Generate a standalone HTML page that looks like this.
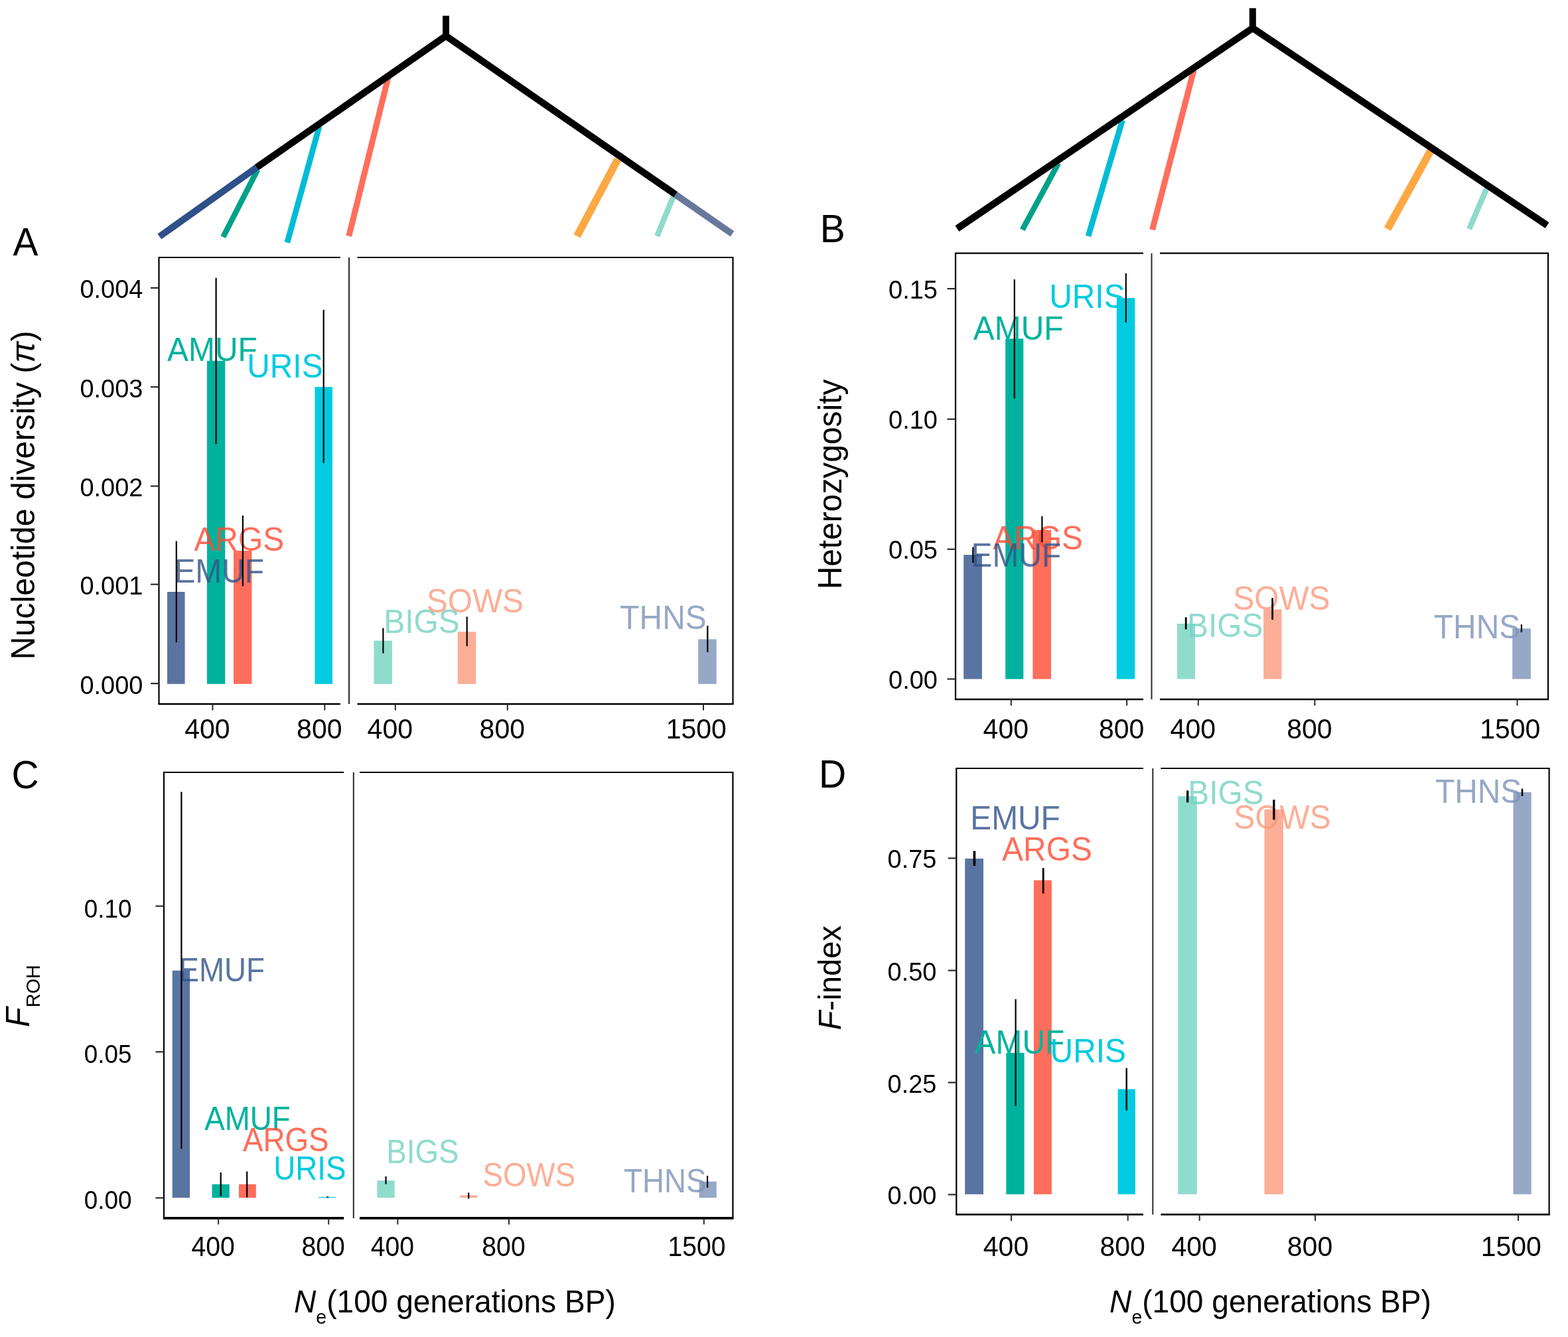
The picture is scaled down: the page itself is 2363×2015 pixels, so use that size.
<!DOCTYPE html>
<html><head><meta charset="utf-8"><title>Figure</title>
<style>
html,body{margin:0;padding:0;background:#fff;}
body{width:2363px;height:2015px;overflow:hidden;}
svg{display:block;}
svg text{font-family:'Liberation Sans', Arial, Helvetica, sans-serif;}
</style></head>
<body>
<svg width="2363" height="2015" viewBox="0 0 2363 2015">
<rect x="0" y="0" width="2363" height="2015" fill="#fff"/>
<line x1="388.2" y1="255.8" x2="336.3" y2="357.1" stroke="#00a18a" stroke-width="8.5" stroke-linecap="butt"/>
<line x1="481.1" y1="190.6" x2="432.9" y2="365.6" stroke="#00bcd6" stroke-width="8.8" stroke-linecap="butt"/>
<line x1="584.9" y1="117.0" x2="525.8" y2="355.9" stroke="#ff6e5d" stroke-width="9" stroke-linecap="butt"/>
<line x1="931.0" y1="240.0" x2="869.6" y2="355.9" stroke="#fca944" stroke-width="11.5" stroke-linecap="butt"/>
<line x1="1014.4" y1="296.8" x2="990.2" y2="355.9" stroke="#8fdacb" stroke-width="8.5" stroke-linecap="butt"/>
<line x1="672" y1="23.7" x2="672" y2="56.2" stroke="#000" stroke-width="10" stroke-linecap="butt"/>
<line x1="672" y1="54.2" x2="387" y2="252.2" stroke="#000" stroke-width="10" stroke-linecap="butt" stroke-linejoin="miter"/>
<line x1="387" y1="252.2" x2="240.3" y2="356.5" stroke="#2f508a" stroke-width="10" stroke-linecap="butt"/>
<line x1="672" y1="54.2" x2="1018" y2="293.2" stroke="#000" stroke-width="10" stroke-linecap="butt"/>
<line x1="1018" y1="293.2" x2="1103.5" y2="352.5" stroke="#67789a" stroke-width="10" stroke-linecap="butt"/>
<polyline points="387,252.2 672,54.2 1018,293.2" fill="none" stroke="#000" stroke-width="10" stroke-linejoin="miter" stroke-miterlimit="10"/>
<line x1="1595.0" y1="246.1" x2="1540.7" y2="346.3" stroke="#00a18a" stroke-width="8.5" stroke-linecap="butt"/>
<line x1="1691.5" y1="181.0" x2="1640.0" y2="355.9" stroke="#00bcd6" stroke-width="8.8" stroke-linecap="butt"/>
<line x1="1798.9" y1="106.2" x2="1736.6" y2="346.3" stroke="#ff6e5d" stroke-width="9" stroke-linecap="butt"/>
<line x1="2156.2" y1="226.8" x2="2091.0" y2="345.1" stroke="#fca944" stroke-width="11.5" stroke-linecap="butt"/>
<line x1="2240.6" y1="283.5" x2="2214.1" y2="345.1" stroke="#8fdacb" stroke-width="8.5" stroke-linecap="butt"/>
<line x1="1887.8" y1="12.3" x2="1887.8" y2="44.3" stroke="#000" stroke-width="10" stroke-linecap="butt"/>
<line x1="1887.8" y1="42.3" x2="1442.5" y2="344.5" stroke="#000" stroke-width="10" stroke-linecap="butt"/>
<line x1="1887.8" y1="42.3" x2="2331.5" y2="339.5" stroke="#000" stroke-width="10" stroke-linecap="butt"/>
<polyline points="1442.5,344.5 1887.8,42.3 2331.5,339.5" fill="none" stroke="#000" stroke-width="10" stroke-linejoin="miter" stroke-miterlimit="10"/>
<rect x="252" y="892" width="26.6" height="138.8" fill="#5a74a1"/>
<rect x="312" y="543.8" width="27.3" height="487.0" fill="#00b29d"/>
<rect x="352" y="830" width="27.5" height="200.8" fill="#ff6e5b"/>
<rect x="474.5" y="583.2" width="26.5" height="447.6" fill="#00cbe0"/>
<rect x="563.4" y="965.6" width="27.6" height="65.2" fill="#8fdccd"/>
<rect x="689.7" y="952.2" width="27.6" height="78.6" fill="#fcae97"/>
<rect x="1052.2" y="963.4" width="27.6" height="67.4" fill="#97a8c6"/>
<text transform="translate(252.1,544.0) scale(1.0,1.035)" font-size="47.9" fill="#00b29d" fill-opacity="1.0">AMUF</text>
<text transform="translate(372.2,568.5) scale(1.0,1.035)" font-size="47.9" fill="#00cbe0" fill-opacity="1.0">URIS</text>
<text transform="translate(292.4,830.0) scale(1.0,1.035)" font-size="47.9" fill="#ff4a32" fill-opacity="0.8">ARGS</text>
<text transform="translate(262.4,877.5) scale(1.0,1.035)" font-size="47.9" fill="#31518a" fill-opacity="0.8">EMUF</text>
<text transform="translate(578.3,954.3) scale(1.0,1.035)" font-size="47.9" fill="#73d3c0" fill-opacity="0.8">BIGS</text>
<text transform="translate(642.7,922.5) scale(1.0,1.035)" font-size="47.9" fill="#fb9a7d" fill-opacity="0.8">SOWS</text>
<text transform="translate(934.3,948.3) scale(1.0,1.035)" font-size="47.9" fill="#7d92b8" fill-opacity="0.8">THNS</text>
<line x1="265.8" y1="815.5" x2="265.8" y2="968.1" stroke="#000" stroke-width="2.2" stroke-linecap="butt"/>
<line x1="325.6" y1="418.8" x2="325.6" y2="669.2" stroke="#000" stroke-width="2.2" stroke-linecap="butt"/>
<line x1="365.9" y1="777" x2="365.9" y2="883.4" stroke="#000" stroke-width="2.2" stroke-linecap="butt"/>
<line x1="487.7" y1="466.8" x2="487.7" y2="697.8" stroke="#000" stroke-width="2.2" stroke-linecap="butt"/>
<line x1="577.4" y1="946.6" x2="577.4" y2="984.6" stroke="#000" stroke-width="2.2" stroke-linecap="butt"/>
<line x1="703.7" y1="929.4" x2="703.7" y2="973.8" stroke="#000" stroke-width="2.2" stroke-linecap="butt"/>
<line x1="1066.3" y1="943" x2="1066.3" y2="982.8" stroke="#000" stroke-width="2.2" stroke-linecap="butt"/>
<polyline points="513,388 239.5,388 239.5,1061" fill="none" stroke="#000" stroke-width="2.2" stroke-linejoin="miter"/>
<polyline points="538.5,388 1104.5,388 1104.5,1061" fill="none" stroke="#000" stroke-width="2.2" stroke-linejoin="miter"/>
<line x1="238.4" y1="1061" x2="513" y2="1061" stroke="#000" stroke-width="2.3" stroke-linecap="butt"/>
<line x1="538.5" y1="1061" x2="1105.6" y2="1061" stroke="#000" stroke-width="2.3" stroke-linecap="butt"/>
<line x1="526" y1="388" x2="526" y2="1061" stroke="#2a2a2a" stroke-width="2" stroke-linecap="butt"/>
<line x1="227.0" y1="1030.1" x2="239.5" y2="1030.1" stroke="#2a2a2a" stroke-width="2.2" stroke-linecap="butt"/>
<text transform="translate(215.5,1045.5) scale(1.0,1.035)" font-size="38" text-anchor="end">0.000</text>
<line x1="227.0" y1="880.7" x2="239.5" y2="880.7" stroke="#2a2a2a" stroke-width="2.2" stroke-linecap="butt"/>
<text transform="translate(215.5,896.1) scale(1.0,1.035)" font-size="38" text-anchor="end">0.001</text>
<line x1="227.0" y1="732.6" x2="239.5" y2="732.6" stroke="#2a2a2a" stroke-width="2.2" stroke-linecap="butt"/>
<text transform="translate(215.5,748.0) scale(1.0,1.035)" font-size="38" text-anchor="end">0.002</text>
<line x1="227.0" y1="583.2" x2="239.5" y2="583.2" stroke="#2a2a2a" stroke-width="2.2" stroke-linecap="butt"/>
<text transform="translate(215.5,598.6) scale(1.0,1.035)" font-size="38" text-anchor="end">0.003</text>
<line x1="227.0" y1="433.9" x2="239.5" y2="433.9" stroke="#2a2a2a" stroke-width="2.2" stroke-linecap="butt"/>
<text transform="translate(215.5,449.3) scale(1.0,1.035)" font-size="38" text-anchor="end">0.004</text>
<line x1="320.4" y1="1061" x2="320.4" y2="1070.5" stroke="#2a2a2a" stroke-width="2" stroke-linecap="butt"/>
<line x1="489.3" y1="1061" x2="489.3" y2="1070.5" stroke="#2a2a2a" stroke-width="2" stroke-linecap="butt"/>
<line x1="595.8" y1="1061" x2="595.8" y2="1070.5" stroke="#2a2a2a" stroke-width="2" stroke-linecap="butt"/>
<line x1="764.8" y1="1061" x2="764.8" y2="1070.5" stroke="#2a2a2a" stroke-width="2" stroke-linecap="butt"/>
<line x1="1060" y1="1061" x2="1060" y2="1070.5" stroke="#2a2a2a" stroke-width="2" stroke-linecap="butt"/>
<text transform="translate(312.4,1112.7) scale(1.0,1.035)" font-size="41" text-anchor="middle">400</text>
<text transform="translate(481.3,1112.7) scale(1.0,1.035)" font-size="41" text-anchor="middle">800</text>
<text transform="translate(587.8,1112.7) scale(1.0,1.035)" font-size="41" text-anchor="middle">400</text>
<text transform="translate(756.8,1112.7) scale(1.0,1.035)" font-size="41" text-anchor="middle">800</text>
<text transform="translate(1049.3,1112.7) scale(1.0,1.035)" font-size="41" text-anchor="middle">1500</text>
<rect x="1452.2" y="836.2" width="27.7" height="187.2" fill="#5a74a1"/>
<rect x="1515.2" y="510.4" width="27.1" height="513.0" fill="#00b29d"/>
<rect x="1556.4" y="798.7" width="27.6" height="224.7" fill="#ff6e5b"/>
<rect x="1682.8" y="449.1" width="27.5" height="574.3" fill="#00cbe0"/>
<rect x="1774.0" y="939.9" width="27.1" height="83.5" fill="#8fdccd"/>
<rect x="1904.1" y="918.4" width="27.3" height="105.0" fill="#fcae97"/>
<rect x="2279.2" y="947.2" width="27.7" height="76.2" fill="#97a8c6"/>
<text transform="translate(1581.2,463.9) scale(1.0,1.035)" font-size="47.9" fill="#00cbe0" fill-opacity="1.0">URIS</text>
<text transform="translate(1466.8,511.6) scale(1.0,1.035)" font-size="47.9" fill="#00b29d" fill-opacity="1.0">AMUF</text>
<text transform="translate(1496.2,827.7) scale(1.0,1.035)" font-size="47.9" fill="#ff4a32" fill-opacity="0.8">ARGS</text>
<text transform="translate(1463.6,854.0) scale(1.0,1.035)" font-size="47.9" fill="#31518a" fill-opacity="0.8">EMUF</text>
<text transform="translate(1858.2,919.0) scale(1.0,1.035)" font-size="47.9" fill="#fb9a7d" fill-opacity="0.8">SOWS</text>
<text transform="translate(1789.0,959.6) scale(1.0,1.035)" font-size="47.9" fill="#73d3c0" fill-opacity="0.8">BIGS</text>
<text transform="translate(2160.8,961.9) scale(1.0,1.035)" font-size="47.9" fill="#7d92b8" fill-opacity="0.8">THNS</text>
<line x1="1466.3" y1="824.6" x2="1466.3" y2="848.1" stroke="#000" stroke-width="2.2" stroke-linecap="butt"/>
<line x1="1528.8" y1="421.1" x2="1528.8" y2="600.4" stroke="#000" stroke-width="2.2" stroke-linecap="butt"/>
<line x1="1570.4" y1="778" x2="1570.4" y2="817.3" stroke="#000" stroke-width="2.2" stroke-linecap="butt"/>
<line x1="1696.8" y1="412" x2="1696.8" y2="485.9" stroke="#000" stroke-width="2.2" stroke-linecap="butt"/>
<line x1="1787.2" y1="930.3" x2="1787.2" y2="948.4" stroke="#000" stroke-width="2.8" stroke-linecap="butt"/>
<line x1="1917.6" y1="901.3" x2="1917.6" y2="933.9" stroke="#000" stroke-width="2.8" stroke-linecap="butt"/>
<line x1="2292.9" y1="941.1" x2="2292.9" y2="952.9" stroke="#000" stroke-width="2.2" stroke-linecap="butt"/>
<polyline points="1723,381.7 1440,381.7 1440,1054" fill="none" stroke="#000" stroke-width="2.2" stroke-linejoin="miter"/>
<polyline points="1748,381.7 2333,381.7 2333,1054" fill="none" stroke="#000" stroke-width="2.2" stroke-linejoin="miter"/>
<line x1="1438.9" y1="1054" x2="1723" y2="1054" stroke="#000" stroke-width="2.3" stroke-linecap="butt"/>
<line x1="1748" y1="1054" x2="2334.1" y2="1054" stroke="#000" stroke-width="2.3" stroke-linecap="butt"/>
<line x1="1735.5" y1="381.7" x2="1735.5" y2="1054" stroke="#2a2a2a" stroke-width="2" stroke-linecap="butt"/>
<line x1="1427.5" y1="1023.4" x2="1440" y2="1023.4" stroke="#2a2a2a" stroke-width="2.2" stroke-linecap="butt"/>
<text transform="translate(1413,1038.0) scale(1.0,1.035)" font-size="38" text-anchor="end">0.00</text>
<line x1="1427.5" y1="827.7" x2="1440" y2="827.7" stroke="#2a2a2a" stroke-width="2.2" stroke-linecap="butt"/>
<text transform="translate(1413,842.3) scale(1.0,1.035)" font-size="38" text-anchor="end">0.05</text>
<line x1="1427.5" y1="631.7" x2="1440" y2="631.7" stroke="#2a2a2a" stroke-width="2.2" stroke-linecap="butt"/>
<text transform="translate(1413,646.3) scale(1.0,1.035)" font-size="38" text-anchor="end">0.10</text>
<line x1="1427.5" y1="435.1" x2="1440" y2="435.1" stroke="#2a2a2a" stroke-width="2.2" stroke-linecap="butt"/>
<text transform="translate(1413,449.7) scale(1.0,1.035)" font-size="38" text-anchor="end">0.15</text>
<line x1="1523.8" y1="1054" x2="1523.8" y2="1063.5" stroke="#2a2a2a" stroke-width="2" stroke-linecap="butt"/>
<line x1="1698.1" y1="1054" x2="1698.1" y2="1063.5" stroke="#2a2a2a" stroke-width="2" stroke-linecap="butt"/>
<line x1="1805.8" y1="1054" x2="1805.8" y2="1063.5" stroke="#2a2a2a" stroke-width="2" stroke-linecap="butt"/>
<line x1="1981.4" y1="1054" x2="1981.4" y2="1063.5" stroke="#2a2a2a" stroke-width="2" stroke-linecap="butt"/>
<line x1="2286.5" y1="1054" x2="2286.5" y2="1063.5" stroke="#2a2a2a" stroke-width="2" stroke-linecap="butt"/>
<text transform="translate(1515.8,1112.7) scale(1.0,1.035)" font-size="41" text-anchor="middle">400</text>
<text transform="translate(1690.1,1112.7) scale(1.0,1.035)" font-size="41" text-anchor="middle">800</text>
<text transform="translate(1797.8,1112.7) scale(1.0,1.035)" font-size="41" text-anchor="middle">400</text>
<text transform="translate(1973.4,1112.7) scale(1.0,1.035)" font-size="41" text-anchor="middle">800</text>
<text transform="translate(2275.8,1112.7) scale(1.0,1.035)" font-size="41" text-anchor="middle">1500</text>
<rect x="259.7" y="1462.8" width="26.4" height="342.4" fill="#5a74a1"/>
<rect x="319.5" y="1784.8" width="26.3" height="20.4" fill="#00b29d"/>
<rect x="360" y="1784.8" width="25.8" height="20.4" fill="#ff6e5b"/>
<rect x="480" y="1804.0" width="26.3" height="1.2" fill="#00cbe0"/>
<rect x="568.3" y="1779.2" width="26.4" height="26.0" fill="#8fdccd"/>
<rect x="693.5" y="1801.4" width="25.9" height="3.8" fill="#fcae97"/>
<rect x="1053.6" y="1780.7" width="26.2" height="24.5" fill="#97a8c6"/>
<text transform="translate(269.4,1478.8) scale(0.955,1.035)" font-size="47.9" fill="#31518a" fill-opacity="0.8">EMUF</text>
<text transform="translate(308.2,1702.6) scale(0.955,1.035)" font-size="47.9" fill="#00b29d" fill-opacity="1.0">AMUF</text>
<text transform="translate(365.9,1735.1) scale(0.955,1.035)" font-size="47.9" fill="#ff4a32" fill-opacity="0.8">ARGS</text>
<text transform="translate(412.3,1778.4) scale(0.955,1.035)" font-size="47.9" fill="#00cbe0" fill-opacity="1.0">URIS</text>
<text transform="translate(582.2,1753.4) scale(0.955,1.035)" font-size="47.9" fill="#73d3c0" fill-opacity="0.8">BIGS</text>
<text transform="translate(727.5,1787.5) scale(0.955,1.035)" font-size="47.9" fill="#fb9a7d" fill-opacity="0.8">SOWS</text>
<text transform="translate(940.1,1796.7) scale(0.955,1.035)" font-size="47.9" fill="#7d92b8" fill-opacity="0.8">THNS</text>
<line x1="273.4" y1="1193.4" x2="273.4" y2="1731.6" stroke="#000" stroke-width="2.2" stroke-linecap="butt"/>
<line x1="332.7" y1="1767" x2="332.7" y2="1802.5" stroke="#000" stroke-width="2.2" stroke-linecap="butt"/>
<line x1="372.2" y1="1765.6" x2="372.2" y2="1804.6" stroke="#000" stroke-width="2.2" stroke-linecap="butt"/>
<line x1="493.7" y1="1803.3" x2="493.7" y2="1805.3" stroke="#000" stroke-width="2.6" stroke-linecap="butt"/>
<line x1="581.5" y1="1773" x2="581.5" y2="1784.6" stroke="#000" stroke-width="2.2" stroke-linecap="butt"/>
<line x1="706.2" y1="1797.4" x2="706.2" y2="1806.5" stroke="#000" stroke-width="2.2" stroke-linecap="butt"/>
<line x1="1066.1" y1="1772" x2="1066.1" y2="1790" stroke="#000" stroke-width="2.2" stroke-linecap="butt"/>
<polyline points="518.2,1164 247,1164 247,1835.9" fill="none" stroke="#000" stroke-width="2.2" stroke-linejoin="miter"/>
<polyline points="542,1164 1104.4,1164 1104.4,1835.9" fill="none" stroke="#000" stroke-width="2.2" stroke-linejoin="miter"/>
<line x1="245.9" y1="1835.9" x2="518.2" y2="1835.9" stroke="#000" stroke-width="3.7" stroke-linecap="butt"/>
<line x1="542" y1="1835.9" x2="1105.5" y2="1835.9" stroke="#000" stroke-width="3.7" stroke-linecap="butt"/>
<line x1="532.8" y1="1164" x2="532.8" y2="1835.9" stroke="#2a2a2a" stroke-width="2" stroke-linecap="butt"/>
<line x1="234.5" y1="1805.4" x2="247" y2="1805.4" stroke="#2a2a2a" stroke-width="2.2" stroke-linecap="butt"/>
<text transform="translate(198.5,1822.4) scale(0.97,1.035)" font-size="38" text-anchor="end">0.00</text>
<line x1="234.5" y1="1585.3" x2="247" y2="1585.3" stroke="#2a2a2a" stroke-width="2.2" stroke-linecap="butt"/>
<text transform="translate(198.5,1602.3) scale(0.97,1.035)" font-size="38" text-anchor="end">0.05</text>
<line x1="234.5" y1="1365.6" x2="247" y2="1365.6" stroke="#2a2a2a" stroke-width="2.2" stroke-linecap="butt"/>
<text transform="translate(198.5,1382.6) scale(0.97,1.035)" font-size="38" text-anchor="end">0.10</text>
<line x1="329.1" y1="1835.9" x2="329.1" y2="1845.4" stroke="#2a2a2a" stroke-width="2" stroke-linecap="butt"/>
<line x1="495.2" y1="1835.9" x2="495.2" y2="1845.4" stroke="#2a2a2a" stroke-width="2" stroke-linecap="butt"/>
<line x1="599.3" y1="1835.9" x2="599.3" y2="1845.4" stroke="#2a2a2a" stroke-width="2" stroke-linecap="butt"/>
<line x1="767" y1="1835.9" x2="767" y2="1845.4" stroke="#2a2a2a" stroke-width="2" stroke-linecap="butt"/>
<line x1="1060.8" y1="1835.9" x2="1060.8" y2="1845.4" stroke="#2a2a2a" stroke-width="2" stroke-linecap="butt"/>
<text transform="translate(321.1,1892.7) scale(0.955,1.035)" font-size="41" text-anchor="middle">400</text>
<text transform="translate(487.2,1892.7) scale(0.955,1.035)" font-size="41" text-anchor="middle">800</text>
<text transform="translate(591.3,1892.7) scale(0.955,1.035)" font-size="41" text-anchor="middle">400</text>
<text transform="translate(759,1892.7) scale(0.955,1.035)" font-size="41" text-anchor="middle">800</text>
<text transform="translate(1050.1,1892.7) scale(0.955,1.035)" font-size="41" text-anchor="middle">1500</text>
<rect x="1454.2" y="1294.0" width="27.8" height="505.9" fill="#5a74a1"/>
<rect x="1516.3" y="1586.8" width="27.3" height="213.1" fill="#00b29d"/>
<rect x="1557.9" y="1326.6" width="27.0" height="473.3" fill="#ff6e5b"/>
<rect x="1684.6" y="1641.5" width="26.3" height="158.4" fill="#00cbe0"/>
<rect x="1775.2" y="1200.1" width="28.6" height="599.8" fill="#8fdccd"/>
<rect x="1905.5" y="1219.8" width="28.4" height="580.1" fill="#fcae97"/>
<rect x="2280.5" y="1193.8" width="27.2" height="606.1" fill="#97a8c6"/>
<text transform="translate(1462.2,1249.9) scale(1.0,1.035)" font-size="47.9" fill="#31518a" fill-opacity="0.8">EMUF</text>
<text transform="translate(1510.1,1297.2) scale(1.0,1.035)" font-size="47.9" fill="#ff4a32" fill-opacity="0.8">ARGS</text>
<text transform="translate(1468.6,1587.6) scale(1.0,1.035)" font-size="47.9" fill="#00b29d" fill-opacity="1.0">AMUF</text>
<text transform="translate(1582.6,1601.0) scale(1.0,1.035)" font-size="47.9" fill="#00cbe0" fill-opacity="1.0">URIS</text>
<text transform="translate(1790.2,1211.9) scale(1.0,1.035)" font-size="47.9" fill="#73d3c0" fill-opacity="0.8">BIGS</text>
<text transform="translate(1859.3,1249.3) scale(1.0,1.035)" font-size="47.9" fill="#fb9a7d" fill-opacity="0.8">SOWS</text>
<text transform="translate(2162.9,1209.6) scale(1.0,1.035)" font-size="47.9" fill="#7d92b8" fill-opacity="0.8">THNS</text>
<line x1="1468.4" y1="1282.5" x2="1468.4" y2="1305" stroke="#000" stroke-width="3.6" stroke-linecap="butt"/>
<line x1="1530.6" y1="1505.8" x2="1530.6" y2="1666.8" stroke="#000" stroke-width="2.2" stroke-linecap="butt"/>
<line x1="1572.2" y1="1308.2" x2="1572.2" y2="1346.6" stroke="#000" stroke-width="2.8" stroke-linecap="butt"/>
<line x1="1697.7" y1="1609.6" x2="1697.7" y2="1673.4" stroke="#000" stroke-width="2.4" stroke-linecap="butt"/>
<line x1="1789.7" y1="1191.4" x2="1789.7" y2="1209.4" stroke="#000" stroke-width="3.4" stroke-linecap="butt"/>
<line x1="1919.8" y1="1205.3" x2="1919.8" y2="1235.4" stroke="#000" stroke-width="3.2" stroke-linecap="butt"/>
<line x1="2294.0" y1="1188.7" x2="2294.0" y2="1199.8" stroke="#000" stroke-width="2.6" stroke-linecap="butt"/>
<polyline points="1723,1158 1441.3,1158 1441.3,1830.4" fill="none" stroke="#000" stroke-width="2.2" stroke-linejoin="miter"/>
<polyline points="1749.4,1158 2334.6,1158 2334.6,1830.4" fill="none" stroke="#000" stroke-width="2.2" stroke-linejoin="miter"/>
<line x1="1440.2" y1="1830.4" x2="1723" y2="1830.4" stroke="#000" stroke-width="2.6" stroke-linecap="butt"/>
<line x1="1749.4" y1="1830.4" x2="2335.7" y2="1830.4" stroke="#000" stroke-width="2.6" stroke-linecap="butt"/>
<line x1="1737.3" y1="1158" x2="1737.3" y2="1830.4" stroke="#2a2a2a" stroke-width="2" stroke-linecap="butt"/>
<line x1="1428.8" y1="1800.4" x2="1441.3" y2="1800.4" stroke="#2a2a2a" stroke-width="2.2" stroke-linecap="butt"/>
<text transform="translate(1411.5,1815.4) scale(1.0,1.035)" font-size="38" text-anchor="end">0.00</text>
<line x1="1428.8" y1="1631.5" x2="1441.3" y2="1631.5" stroke="#2a2a2a" stroke-width="2.2" stroke-linecap="butt"/>
<text transform="translate(1411.5,1646.5) scale(1.0,1.035)" font-size="38" text-anchor="end">0.25</text>
<line x1="1428.8" y1="1462.6" x2="1441.3" y2="1462.6" stroke="#2a2a2a" stroke-width="2.2" stroke-linecap="butt"/>
<text transform="translate(1411.5,1477.6) scale(1.0,1.035)" font-size="38" text-anchor="end">0.50</text>
<line x1="1428.8" y1="1293.4" x2="1441.3" y2="1293.4" stroke="#2a2a2a" stroke-width="2.2" stroke-linecap="butt"/>
<text transform="translate(1411.5,1308.4) scale(1.0,1.035)" font-size="38" text-anchor="end">0.75</text>
<line x1="1524" y1="1830.4" x2="1524" y2="1839.9" stroke="#2a2a2a" stroke-width="2" stroke-linecap="butt"/>
<line x1="1699.7" y1="1830.4" x2="1699.7" y2="1839.9" stroke="#2a2a2a" stroke-width="2" stroke-linecap="butt"/>
<line x1="1807.7" y1="1830.4" x2="1807.7" y2="1839.9" stroke="#2a2a2a" stroke-width="2" stroke-linecap="butt"/>
<line x1="1982" y1="1830.4" x2="1982" y2="1839.9" stroke="#2a2a2a" stroke-width="2" stroke-linecap="butt"/>
<line x1="2288" y1="1830.4" x2="2288" y2="1839.9" stroke="#2a2a2a" stroke-width="2" stroke-linecap="butt"/>
<text transform="translate(1516,1892.5) scale(1.0,1.035)" font-size="41" text-anchor="middle">400</text>
<text transform="translate(1691.7,1892.5) scale(1.0,1.035)" font-size="41" text-anchor="middle">800</text>
<text transform="translate(1799.7,1892.5) scale(1.0,1.035)" font-size="41" text-anchor="middle">400</text>
<text transform="translate(1974,1892.5) scale(1.0,1.035)" font-size="41" text-anchor="middle">800</text>
<text transform="translate(2277.3,1892.5) scale(1.0,1.035)" font-size="41" text-anchor="middle">1500</text>
<text transform="translate(19.5,385) scale(1,1.035)" font-size="57">A</text>
<text transform="translate(1235.7,365) scale(1,1.035)" font-size="57">B</text>
<text transform="translate(17.5,1188.4) scale(1,1.035)" font-size="57">C</text>
<text transform="translate(1233.9,1187.0) scale(1,1.035)" font-size="57">D</text>
<text transform="translate(52.2,746.3) rotate(-90) scale(1,1.035)" font-size="48.2" text-anchor="middle">Nucleotide diversity (<tspan font-style="italic">π</tspan>)</text>
<text transform="translate(1267.5,730) rotate(-90) scale(1,1.035)" font-size="47.9" text-anchor="middle">Heterozygosity</text>
<text transform="translate(44,1548) rotate(-90) scale(1,1.035)" font-size="48.5"><tspan font-style="italic">F</tspan><tspan font-size="29" dy="15.8">ROH</tspan></text>
<text transform="translate(1267.4,1552.5) rotate(-90) scale(1,1.035)" font-size="47.3"><tspan font-style="italic">F</tspan>-index</text>
<text transform="translate(443.0,1977.6) scale(1,1.035)" font-size="46.1"><tspan font-style="italic">N</tspan><tspan font-size="28.5" dy="16.5">e</tspan><tspan dy="-16.5">(100 generations BP)</tspan></text>
<text transform="translate(1672.1,1977.6) scale(1,1.035)" font-size="46.1"><tspan font-style="italic">N</tspan><tspan font-size="28.5" dy="16.5">e</tspan><tspan dy="-16.5">(100 generations BP)</tspan></text>
</svg>
</body></html>
